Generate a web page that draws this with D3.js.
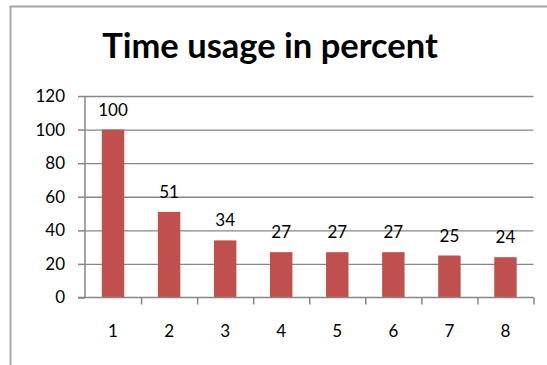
<!DOCTYPE html>
<html>
<head>
<meta charset="utf-8">
<script src="https://cdn.jsdelivr.net/npm/d3@7"></script>
<style>
  html, body { margin: 0; padding: 0; background: #fff; }
  svg { display: block; }
  text { font-family: Lato, "Open Sans", sans-serif; }
</style>
</head>
<body>
<svg id="chart" width="547" height="365"></svg>
<script>
const title = "Time usage in percent";
const categories = ["1", "2", "3", "4", "5", "6", "7", "8"];
const values = [100, 51, 34, 27, 27, 27, 25, 24];
const yTicks = [0, 20, 40, 60, 80, 100, 120];

const svg = d3.select("#chart");
const pL = 85, pR = 533.5, pT = 96, pB = 297.5;
const fs = 17;

// outer chart frame (extends past right/bottom edges)
svg.append("rect")
  .attr("x", 10.5).attr("y", 6.5)
  .attr("width", 700).attr("height", 500)
  .attr("fill", "#fff").attr("stroke", "#a6a6a6").attr("stroke-width", 2);

const x = d3.scaleBand().domain(categories).range([pL, pR])
  .paddingInner(0.6).paddingOuter(0.3);
const xEdges = d3.scaleLinear().domain([0, categories.length]).range([pL, pR]);
const y = d3.scaleLinear().domain([0, 120]).range([pB, pT]);

// gridlines
const grid = svg.append("g").attr("transform", `translate(${pL},0)`)
  .call(d3.axisLeft(y).tickValues(yTicks.filter(d => d > 0)).tickSize(-(pR - pL)).tickFormat(""));
grid.select(".domain").remove();
grid.selectAll("line").attr("stroke", "#878787").attr("stroke-width", 1.3);

// bars
svg.append("g").selectAll("rect").data(values).join("rect")
  .attr("x", (d, i) => x(categories[i]))
  .attr("y", d => y(d))
  .attr("width", x.bandwidth())
  .attr("height", d => y(0) - y(d))
  .attr("fill", "#C0504D");

// data labels
svg.append("g").selectAll("text").data(values).join("text")
  .attr("x", (d, i) => x(categories[i]) + x.bandwidth() / 2)
  .attr("y", d => y(d) - 14)
  .attr("text-anchor", "middle")
  .attr("font-size", fs)
  .attr("fill", "#000")
  .text(d => d);

// y axis
const yAxis = svg.append("g").attr("transform", `translate(${pL},0)`)
  .call(d3.axisLeft(y).tickValues(yTicks).tickSize(7).tickPadding(13));
yAxis.select(".domain").attr("d", `M0,${pT}V${pB}`).attr("stroke", "#868686").attr("stroke-width", 1.5);
yAxis.selectAll(".tick line").attr("stroke", "#868686").attr("stroke-width", 1.5);
yAxis.selectAll(".tick text").attr("font-size", fs).attr("fill", "#000")
  .attr("font-family", "Lato, 'Open Sans', sans-serif");

// x axis line & boundary ticks
const xAxisEdges = svg.append("g").attr("transform", `translate(0,${pB})`)
  .call(d3.axisBottom(xEdges).tickValues(d3.range(1, categories.length + 1)).tickSize(7).tickFormat(""));
xAxisEdges.select(".domain").attr("d", `M${pL - 7},0H${pR}`).attr("stroke", "#868686").attr("stroke-width", 1.5);
xAxisEdges.selectAll(".tick line").attr("stroke", "#868686").attr("stroke-width", 1.5);

// x category labels
const xAxis = svg.append("g").attr("transform", `translate(0,${pB})`)
  .call(d3.axisBottom(x).tickSize(0).tickPadding(27));
xAxis.select(".domain").remove();
xAxis.selectAll(".tick text").attr("font-size", fs).attr("fill", "#000")
  .attr("font-family", "Lato, 'Open Sans', sans-serif");

// title
svg.append("text")
  .attr("x", 270).attr("y", 58)
  .attr("text-anchor", "middle")
  .attr("font-size", 34.5)
  .attr("font-weight", "bold")
  .attr("fill", "#000")
  .text(title);
</script>
</body>
</html>
